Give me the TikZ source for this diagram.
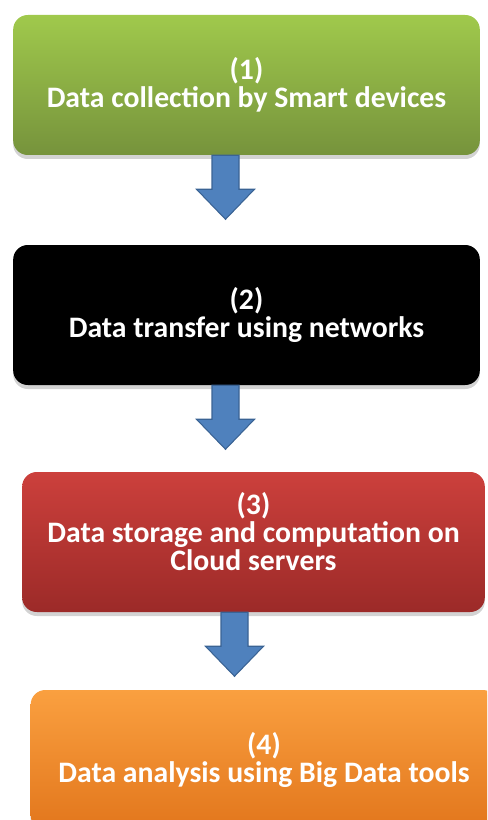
\documentclass[tikz,border=0pt]{standalone}
\usepackage{fontspec}
\setmainfont{Carlito}
\usetikzlibrary{calc, shadows, positioning}
\definecolor{arrowblue}{HTML}{4F81BD}
\definecolor{arrowedge}{HTML}{3A6394}
\tikzset{
	stage/.style={rounded corners=11pt, minimum width=350pt, minimum height=105pt, inner sep=0pt,
		align=center, text=white, font=\fontsize{22.3}{21}\selectfont\bfseries,
		drop shadow={opacity=.35, shadow xshift=0pt, shadow yshift=-3pt}},
	flow/.style={fill=arrowblue, draw=arrowedge, line width=.8pt, line join=miter}
}
% block arrow hanging below a box: box, x offset from its centre
\newcommand{\flowarrow}[2]{%
	\draw[flow] ($(#1.south)+(#2-13.5,0)$) -- ++(0,34) -- ++(-15.5,0) -- ++(29,30)
		-- ++(29,-30) -- ++(-15.5,0) -- ++(0,-34) -- cycle;
}

\begin{document}
\begin{tikzpicture}[x=0.75pt, y=-0.75pt]
	\useasboundingbox (0,0) rectangle (487,820);
	\clip (0,0) rectangle (487,820);

	\node[stage, top color={rgb,255:red,160;green,201;blue,76}, bottom color={rgb,255:red,118;green,147;blue,60}]
		(collect) at (246.5,85) {(1)\\Data collection by Smart devices};
	\node[stage, fill=black]
		(transfer) at (246.5,315) {(2)\\Data transfer using networks};
	\node[stage, minimum width=347pt, text depth=16pt, top color={rgb,255:red,204;green,64;blue,60}, bottom color={rgb,255:red,156;green,42;blue,40}]
		(storage) at (253.5,542) {(3)\\Data storage and computation on\\Cloud servers};
	\node[stage, minimum width=350pt, top color={rgb,255:red,250;green,160;blue,64}, bottom color={rgb,255:red,226;green,118;blue,28}]
		(analysis) at (264,760) {(4)\\Data analysis using Big Data tools};

	\flowarrow{collect}{-21}
	\flowarrow{transfer}{-21}
	\flowarrow{storage}{-19}
\end{tikzpicture}
\end{document}
